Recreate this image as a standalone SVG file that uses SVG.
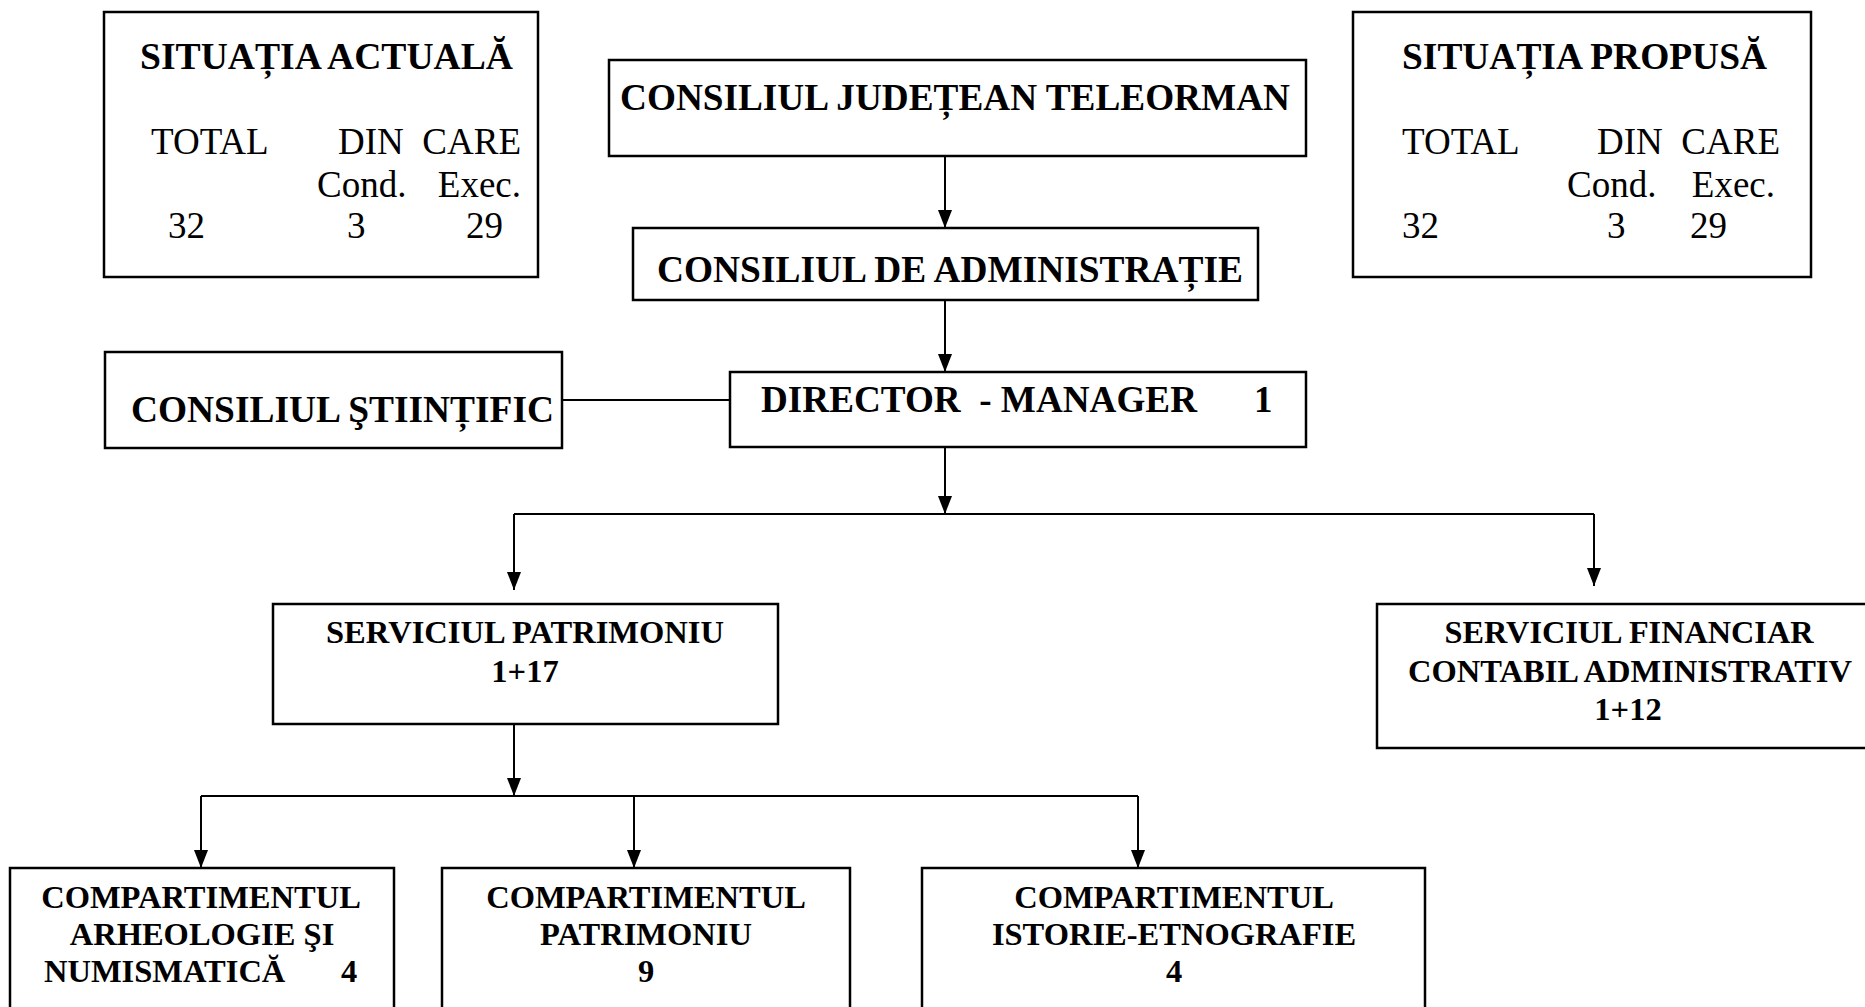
<svg xmlns="http://www.w3.org/2000/svg" width="1865" height="1007" viewBox="0 0 1865 1007">
<style>
.box{fill:#fff;stroke:#000;stroke-width:2.5}
.t{font-family:"Liberation Serif","Times New Roman",serif;fill:#000}
.b37{font-weight:bold;font-size:37px}
.b32{font-weight:bold;font-size:32.5px}
.r36{font-size:37px}
.m{text-anchor:middle}
.e{text-anchor:end}
.ln{fill:none;stroke:#000;stroke-width:2}
</style>
<defs>
<marker id="ah" viewBox="0 0 18 14" refX="18" refY="7" markerWidth="18" markerHeight="14" markerUnits="userSpaceOnUse" orient="auto">
<path d="M0,0 L18,7 L0,14 z" fill="#000"/>
</marker>
</defs>
<rect width="1865" height="1007" fill="#fff"/>

<g id="connectors">
<line class="ln" x1="945" y1="156" x2="945" y2="228" marker-end="url(#ah)"/>
<line class="ln" x1="945" y1="300" x2="945" y2="372" marker-end="url(#ah)"/>
<line class="ln" x1="562" y1="400" x2="730" y2="400"/>
<line class="ln" x1="945" y1="447" x2="945" y2="514" marker-end="url(#ah)"/>
<line class="ln" x1="514" y1="514" x2="1594" y2="514"/>
<line class="ln" x1="514" y1="514" x2="514" y2="590" marker-end="url(#ah)"/>
<line class="ln" x1="1594" y1="514" x2="1594" y2="586" marker-end="url(#ah)"/>
<line class="ln" x1="514" y1="724" x2="514" y2="796" marker-end="url(#ah)"/>
<line class="ln" x1="201" y1="796" x2="1138" y2="796"/>
<line class="ln" x1="201" y1="796" x2="201" y2="868" marker-end="url(#ah)"/>
<line class="ln" x1="634" y1="796" x2="634" y2="868" marker-end="url(#ah)"/>
<line class="ln" x1="1138" y1="796" x2="1138" y2="868" marker-end="url(#ah)"/>
</g>

<g id="situatia-actuala">
<rect class="box" x="104" y="12" width="434" height="265"/>
<text class="t b37" x="140" y="69" textLength="373" lengthAdjust="spacingAndGlyphs">SITUAȚIA ACTUALĂ</text>
<text class="t r36" x="151" y="154">TOTAL</text>
<text class="t r36" x="338" y="154">DIN</text>
<text class="t r36 e" x="521" y="154">CARE</text>
<text class="t r36" x="317" y="197">Cond.</text>
<text class="t r36 e" x="521" y="197">Exec.</text>
<text class="t r36" x="168" y="238">32</text>
<text class="t r36" x="347" y="238">3</text>
<text class="t r36" x="466" y="238">29</text>
</g>

<g id="situatia-propusa">
<rect class="box" x="1353" y="12" width="458" height="265"/>
<text class="t b37" x="1402" y="69" textLength="365" lengthAdjust="spacingAndGlyphs">SITUAȚIA PROPUSĂ</text>
<text class="t r36" x="1402" y="154">TOTAL</text>
<text class="t r36" x="1597" y="154">DIN</text>
<text class="t r36 e" x="1780" y="154">CARE</text>
<text class="t r36" x="1567" y="197">Cond.</text>
<text class="t r36 e" x="1775" y="197">Exec.</text>
<text class="t r36" x="1402" y="238">32</text>
<text class="t r36" x="1607" y="238">3</text>
<text class="t r36" x="1690" y="238">29</text>
</g>

<g id="consiliul-judetean">
<rect class="box" x="609" y="60" width="697" height="96"/>
<text class="t b37" x="620" y="110" textLength="670" lengthAdjust="spacingAndGlyphs">CONSILIUL JUDEȚEAN TELEORMAN</text>
</g>

<g id="consiliul-administratie">
<rect class="box" x="633" y="228" width="625" height="72"/>
<text class="t b37" x="657" y="282" textLength="586" lengthAdjust="spacingAndGlyphs">CONSILIUL DE ADMINISTRAȚIE</text>
</g>

<g id="consiliul-stiintific">
<rect class="box" x="105" y="352" width="457" height="96"/>
<text class="t b37" x="131" y="422" textLength="423" lengthAdjust="spacingAndGlyphs">CONSILIUL ŞTIINȚIFIC</text>
</g>

<g id="director">
<rect class="box" x="730" y="372" width="576" height="75"/>
<text class="t b37" y="412"><tspan x="761" textLength="436" lengthAdjust="spacingAndGlyphs" style="white-space:pre">DIRECTOR  - MANAGER</tspan><tspan x="1254">1</tspan></text>
</g>

<g id="serviciul-patrimoniu">
<rect class="box" x="273" y="604" width="505" height="120"/>
<text class="t b32 m" x="525" y="643" textLength="398" lengthAdjust="spacingAndGlyphs">SERVICIUL PATRIMONIU</text>
<text class="t b32 m" x="525" y="682">1+17</text>
</g>

<g id="serviciul-financiar">
<rect class="box" x="1377" y="604" width="500" height="144"/>
<text class="t b32 m" x="1629" y="643" textLength="369" lengthAdjust="spacingAndGlyphs">SERVICIUL FINANCIAR</text>
<text class="t b32 m" x="1630" y="682" textLength="444" lengthAdjust="spacingAndGlyphs">CONTABIL ADMINISTRATIV</text>
<text class="t b32 m" x="1628" y="720">1+12</text>
</g>

<g id="comp-arheologie">
<rect class="box" x="10" y="868" width="384" height="150"/>
<text class="t b32 m" x="201" y="908">COMPARTIMENTUL</text>
<text class="t b32 m" x="202" y="945">ARHEOLOGIE ŞI</text>
<text class="t b32" y="982"><tspan x="44">NUMISMATICĂ</tspan><tspan x="341">4</tspan></text>
</g>

<g id="comp-patrimoniu">
<rect class="box" x="442" y="868" width="408" height="150"/>
<text class="t b32 m" x="646" y="908">COMPARTIMENTUL</text>
<text class="t b32 m" x="646" y="945">PATRIMONIU</text>
<text class="t b32 m" x="646" y="982">9</text>
</g>

<g id="comp-istorie">
<rect class="box" x="922" y="868" width="503" height="150"/>
<text class="t b32 m" x="1174" y="908">COMPARTIMENTUL</text>
<text class="t b32 m" x="1174" y="945">ISTORIE-ETNOGRAFIE</text>
<text class="t b32 m" x="1174" y="982">4</text>
</g>
</svg>
